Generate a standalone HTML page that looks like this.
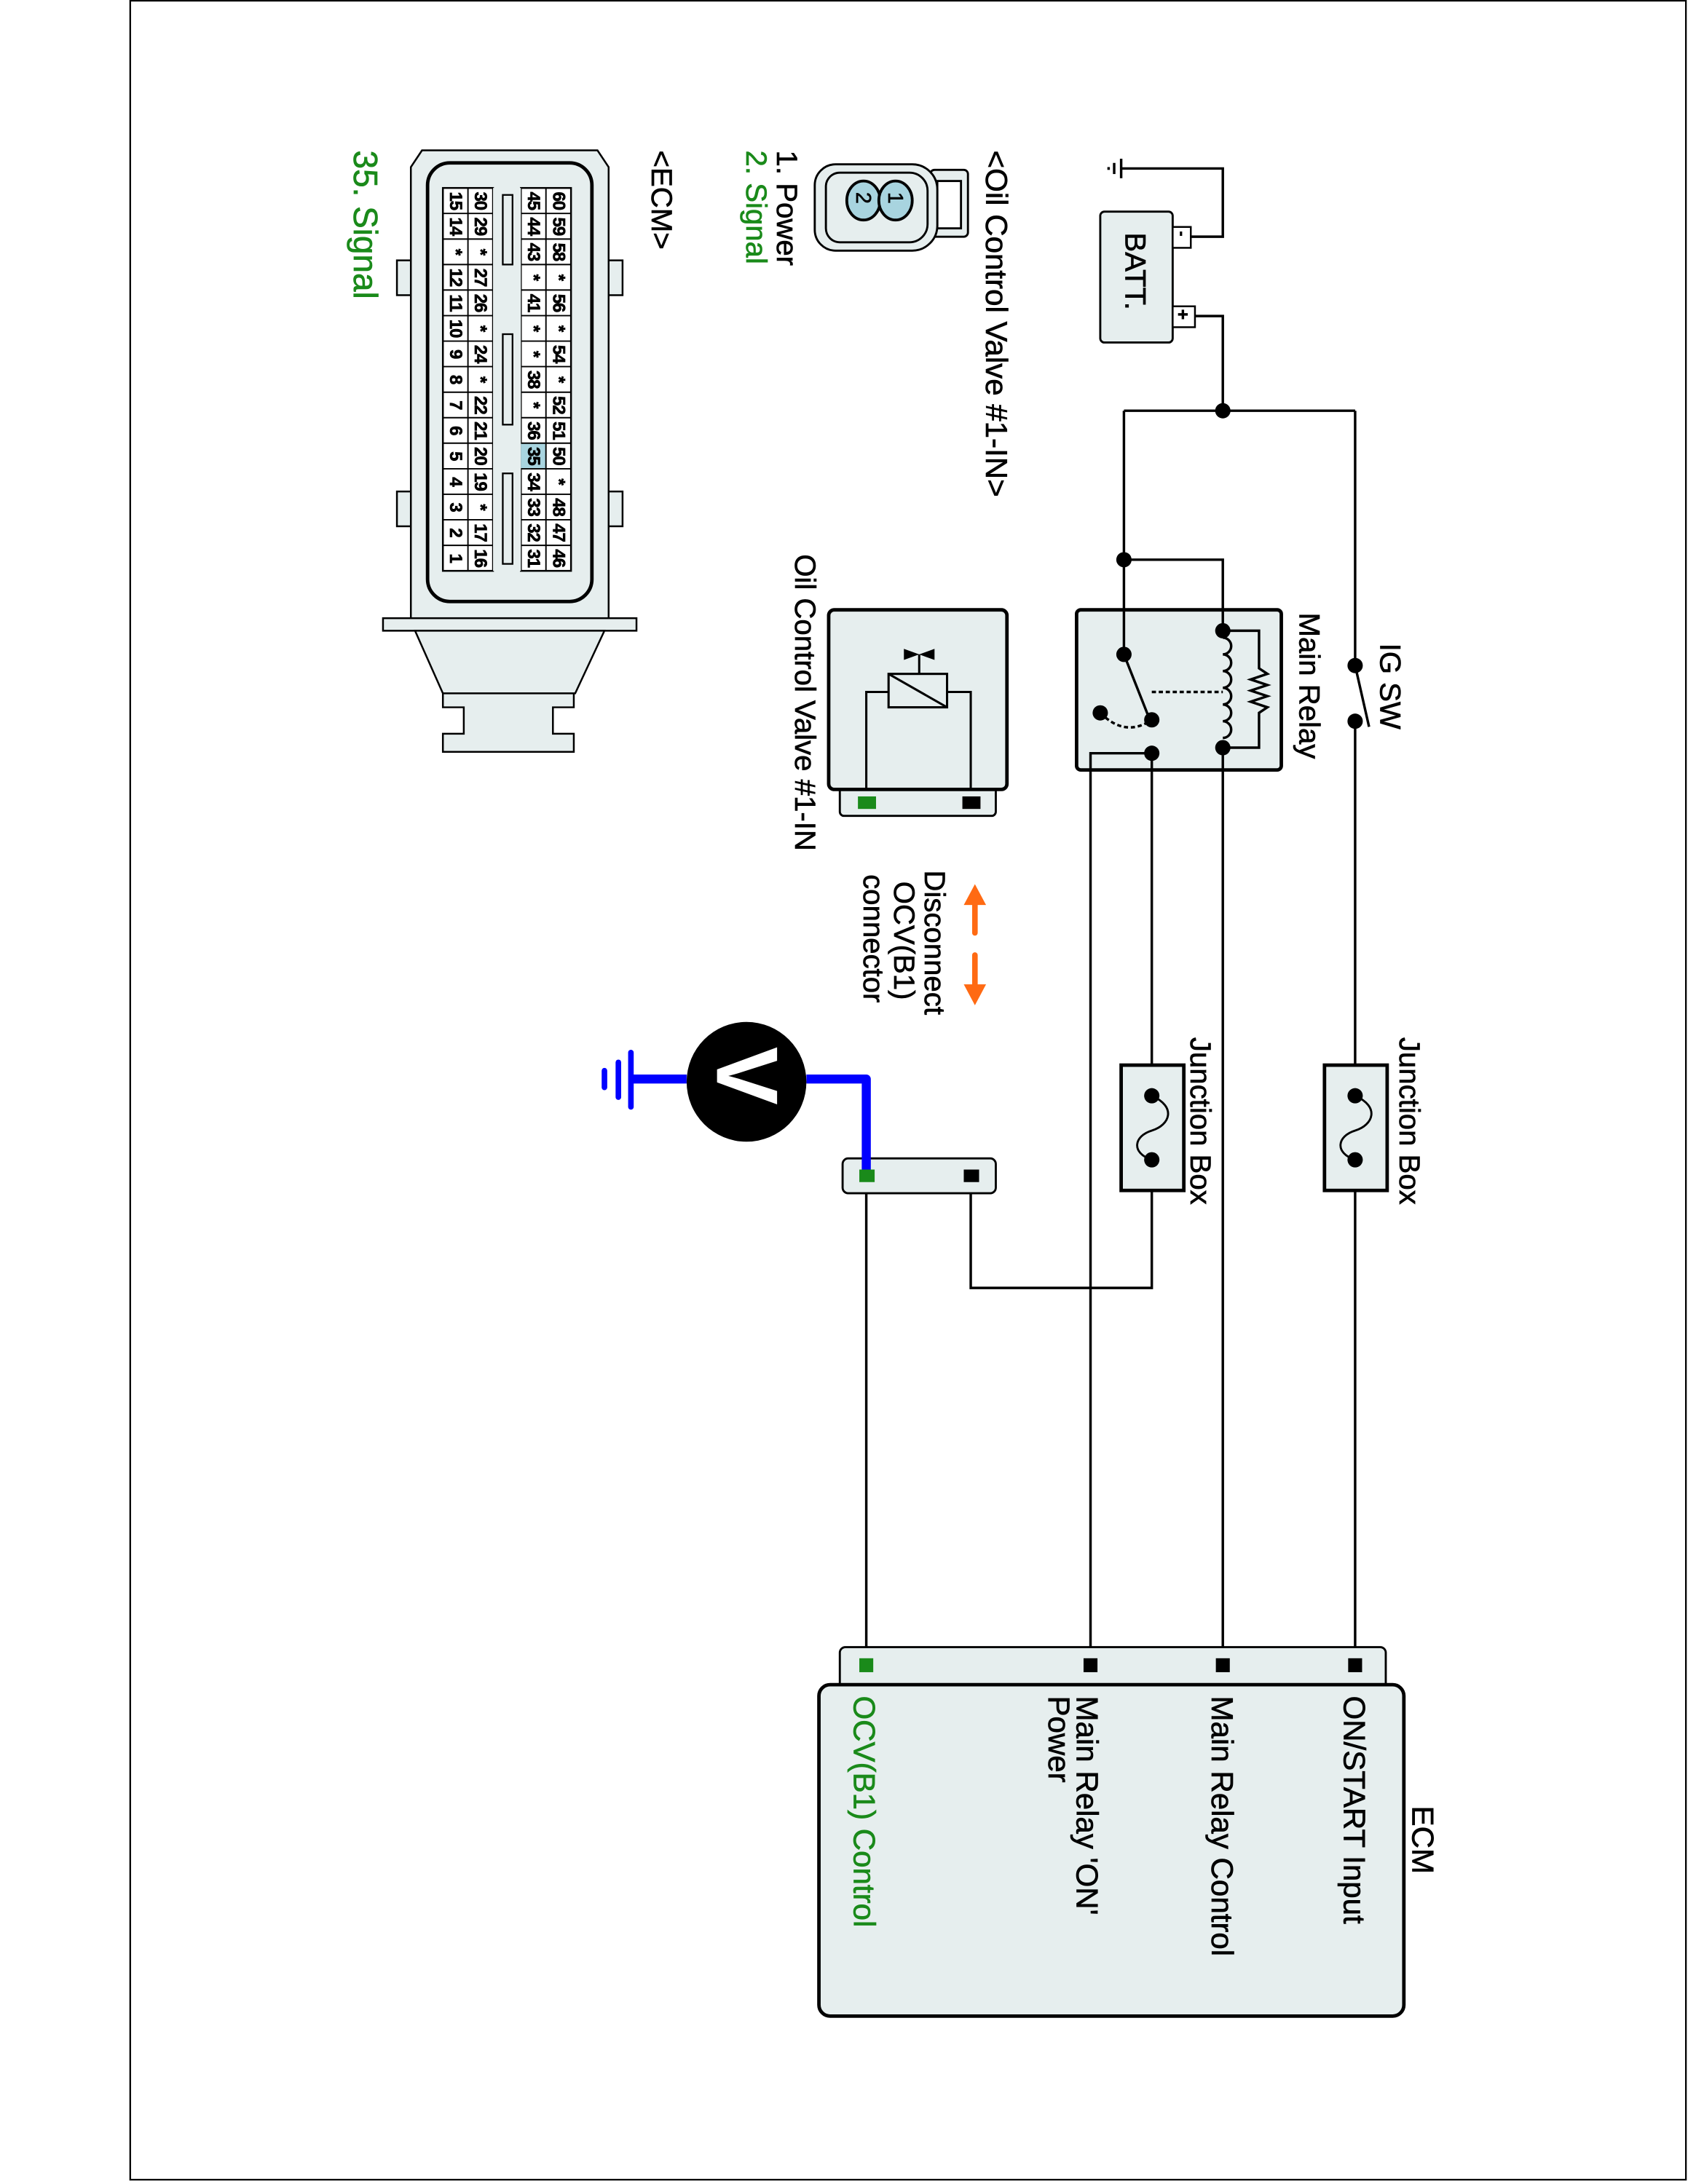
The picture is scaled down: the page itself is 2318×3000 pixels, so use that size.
<!DOCTYPE html>
<html><head><meta charset="utf-8"><style>
html,body{margin:0;padding:0;background:#fff}
svg{display:block}
text{font-family:"Liberation Sans",Arial,sans-serif;stroke:currentColor;stroke-width:0.35}
</style></head><body>
<svg width="2318" height="3000" viewBox="0 0 1212 1568.6" xmlns="http://www.w3.org/2000/svg">
<rect x="93.5" y="0.5" width="1117" height="1565" fill="#fff" stroke="#000" stroke-width="1.2"/>

<g stroke="#000" stroke-width="1.8" fill="none">
<line x1="805" y1="114" x2="805" y2="128"/><line x1="800" y1="117" x2="800" y2="125"/><line x1="796" y1="120" x2="796" y2="122"/>
<polyline points="805,121 878,121 878,170 855,170"/>
<polyline points="858,227 878,227 878,295"/>
<polyline points="807,295 973,295"/>
<polyline points="807,295 807,470"/>
<polyline points="807,402 878,402 878,453"/>
<line x1="973" y1="295" x2="973" y2="475"/>
<line x1="973" y1="518" x2="973" y2="1192"/>
<line x1="878" y1="537" x2="878" y2="1192"/>
<line x1="783" y1="541" x2="783" y2="1192"/>
<polyline points="827,541 827,925 697,925 697,845"/>
<line x1="622" y1="848" x2="622" y2="1192"/>
</g>

<rect x="790" y="152" width="52" height="94" rx="3" fill="#e6eeee" stroke="#000" stroke-width="1.5"/>
<rect x="842" y="163" width="13" height="15" fill="#fff" stroke="#000" stroke-width="1.3"/>
<rect x="842" y="220" width="16" height="15" fill="#fff" stroke="#000" stroke-width="1.3"/>
<text transform="translate(845,166) rotate(90)" font-size="11" font-weight="bold">-</text>
<text transform="translate(845,222) rotate(90)" font-size="13" font-weight="bold">+</text>
<text transform="translate(808,167) rotate(90)" font-size="21">BATT.</text>
<circle cx="878" cy="295" r="5.5"/>
<circle cx="807" cy="402" r="5.5"/>

<circle cx="973" cy="478" r="5.5"/><circle cx="973" cy="518" r="5.5"/>
<line x1="973" y1="478" x2="983" y2="522" stroke="#000" stroke-width="1.8"/>
<text transform="translate(991,462) rotate(90)" font-size="21">IG SW</text>

<rect x="773" y="438" width="147" height="115" rx="3" fill="#e6eeee" stroke="#000" stroke-width="2.5"/>
<g stroke="#000" stroke-width="1.8" fill="none">
<line x1="807" y1="438" x2="807" y2="470"/>
<line x1="878" y1="438" x2="878" y2="453"/>
<polyline points="878,453 904,453 904,480 910,484 898,488 910,492 898,496 910,500 898,504 910,508 904,512 904,537 878,537"/>
<path d="M878,458 a6,6 0 0 1 0,12 a6,6 0 0 1 0,12 a6,6 0 0 1 0,12 a6,6 0 0 1 0,12 a6,6 0 0 1 0,12 a6,6 0 0 1 0,12"/>
<line x1="807" y1="470" x2="824" y2="513"/>
<line x1="827" y1="497" x2="878" y2="497" stroke-dasharray="3,2"/>
<path d="M790,512 Q808,530 827,517" stroke-dasharray="3,2"/>
<polyline points="783,553 783,541 827,541"/>
<line x1="827" y1="541" x2="827" y2="553"/>
<line x1="878" y1="537" x2="878" y2="553"/>
</g>
<circle cx="878" cy="453" r="5.5"/><circle cx="878" cy="537" r="5.5"/>
<circle cx="807" cy="470" r="5.5"/><circle cx="827" cy="517" r="5.5"/>
<circle cx="790" cy="512" r="5.5"/><circle cx="827" cy="541" r="5.5"/>
<text transform="translate(933,440) rotate(90)" font-size="21">Main Relay</text>

<g>
<rect x="805" y="765" width="45" height="90" fill="#e6eeee" stroke="#000" stroke-width="2.5"/>
<rect x="951" y="765" width="45" height="90" fill="#e6eeee" stroke="#000" stroke-width="2.5"/>
<path d="M827,787 C845,795 840,808 827,812 C814,816 812,828 827,833" fill="none" stroke="#000" stroke-width="1.5"/>
<path d="M973,787 C991,795 986,808 973,812 C960,816 958,828 973,833" fill="none" stroke="#000" stroke-width="1.5"/>
<circle cx="827" cy="787" r="5.5"/><circle cx="827" cy="833" r="5.5"/>
<circle cx="973" cy="787" r="5.5"/><circle cx="973" cy="833" r="5.5"/>
<text transform="translate(855,745) rotate(90)" font-size="21">Junction Box</text>
<text transform="translate(1005,745) rotate(90)" font-size="21">Junction Box</text>
</g>

<rect x="603" y="1183" width="392" height="30" rx="4" fill="#e6eeee" stroke="#000" stroke-width="1.5"/>
<rect x="588" y="1210" width="420" height="238" rx="8" fill="#e6eeee" stroke="#000" stroke-width="2.5"/>
<rect x="617" y="1191" width="10" height="10" fill="#1a8a1a"/>
<rect x="778" y="1191" width="10" height="10"/>
<rect x="873" y="1191" width="10" height="10"/>
<rect x="968" y="1191" width="10" height="10"/>
<text transform="translate(1014,1297) rotate(90)" font-size="22">ECM</text>
<text transform="translate(965,1218) rotate(90)" font-size="22">ON/START Input</text>
<text transform="translate(870,1218) rotate(90)" font-size="22">Main Relay Control</text>
<text transform="translate(773,1218) rotate(90)" font-size="22">Main Relay 'ON'</text>
<text transform="translate(753,1218) rotate(90)" font-size="22">Power</text>
<text transform="translate(613,1218) rotate(90)" font-size="22" fill="#1a8a1a" color="#1a8a1a">OCV(B1) Control</text>

<rect x="605" y="832" width="110" height="25" rx="4" fill="#e6eeee" stroke="#000" stroke-width="1.5"/>
<polyline points="622,842 622,775 579,775" fill="none" stroke="#0000ff" stroke-width="6.5" stroke-linejoin="round"/>
<line x1="493" y1="775" x2="453" y2="775" stroke="#0000ff" stroke-width="6.5"/>
<g stroke="#0000ff" stroke-width="4" stroke-linecap="round">
<line x1="453" y1="756" x2="453" y2="795"/><line x1="444" y1="763" x2="444" y2="788"/><line x1="434" y1="769" x2="434" y2="781"/>
</g>
<rect x="617" y="840" width="11" height="9" fill="#1a8a1a"/>
<rect x="692" y="840" width="11" height="9"/>
<circle cx="536" cy="777" r="43"/>
<text transform="translate(515,752) rotate(90)" font-size="62" font-weight="bold" fill="#fff" color="#fff">V</text>

<g fill="#ff6a13" stroke="#ff6a13">
<line x1="700" y1="645" x2="700" y2="670" stroke-width="4" stroke-linecap="round"/>
<polygon points="692,650 700,635 708,650" stroke="none"/>
<line x1="700" y1="686" x2="700" y2="710" stroke-width="4" stroke-linecap="round"/>
<polygon points="692,707 700,722 708,707" stroke="none"/>
</g>
<text transform="translate(664,625) rotate(90)" font-size="21">Disconnect</text>
<text transform="translate(642,633) rotate(90)" font-size="21">OCV(B1)</text>
<text transform="translate(620,628) rotate(90)" font-size="21">connector</text>

<rect x="603" y="565" width="112" height="21" rx="3" fill="#e6eeee" stroke="#000" stroke-width="1.5"/>
<rect x="595" y="438" width="128" height="129" rx="4" fill="#e6eeee" stroke="#000" stroke-width="2.5"/>
<rect x="616" y="572" width="13" height="9" fill="#1a8a1a"/>
<rect x="691" y="572" width="13" height="9"/>
<g stroke="#000" stroke-width="1.6" fill="none">
<rect x="638" y="484" width="42" height="24" fill="#e6eeee"/>
<line x1="638" y1="484" x2="680" y2="508"/>
<polyline points="638,497 622,497 622,567"/>
<polyline points="680,497 697,497 697,567"/>
<line x1="660" y1="470" x2="660" y2="484"/>
</g>
<polygon points="649,466 660,470 649,474" /><polygon points="671,466 660,470 671,474"/>
<text transform="translate(571,398) rotate(90)" font-size="21">Oil Control Valve #1-IN</text>

<g stroke="#000" stroke-width="1.5">
<rect x="668" y="122" width="27" height="48" rx="3" fill="#e6eeee"/>
<rect x="673" y="130" width="17" height="34" fill="#fff"/>
<path d="M600,118 h55 a18,18 0 0 1 18,18 v26 a18,18 0 0 1 -18,18 h-55 a15,15 0 0 1 -15,-15 v-32 a15,15 0 0 1 15,-15z" fill="#e6eeee"/>
<path d="M603,124 h50 a13,13 0 0 1 13,13 v24 a13,13 0 0 1 -13,13 h-50 a10,10 0 0 1 -10,-10 v-30 a10,10 0 0 1 10,-10z" fill="none"/>
<ellipse cx="620" cy="144" rx="12" ry="14" fill="#a8d4df" stroke-width="2"/>
<ellipse cx="643" cy="144" rx="12" ry="14" fill="#a8d4df" stroke-width="2"/>
</g>
<text transform="translate(638,138) rotate(90)" font-size="15">1</text>
<text transform="translate(615,138) rotate(90)" font-size="15">2</text>
<text transform="translate(708,108) rotate(90)" font-size="22">&lt;Oil Control Valve #1-IN&gt;</text>
<text transform="translate(558,108) rotate(90)" font-size="21">1. Power</text>
<text transform="translate(536,108) rotate(90)" font-size="21" fill="#1a8a1a" color="#1a8a1a">2. Signal</text>

<text transform="translate(468,108) rotate(90)" font-size="21">&lt;ECM&gt;</text>
<text transform="translate(254,108) rotate(90)" font-size="24" fill="#1a8a1a" color="#1a8a1a">35. Signal</text>
<g stroke="#000" stroke-width="1.3" fill="#e6eeee">
<rect x="285" y="187" width="12" height="25"/><rect x="285" y="353" width="12" height="25"/>
<rect x="435" y="187" width="12" height="25"/><rect x="435" y="353" width="12" height="25"/>
<path d="M295,445 V120 l8,-12 h126 l8,12 V445z"/>
<rect x="275" y="444" width="182" height="9"/>
<polygon points="298,453 434,453 413,498 318,498"/>
<polygon points="318,498 412,498 412,508 397,508 397,527 412,527 412,540 318,540 318,527 333,527 333,508 318,508"/>
<rect x="307" y="117" width="118" height="315" rx="16" stroke-width="2.5"/>
</g>
<g>
<rect x="374" y="135" width="36" height="275" fill="#fff" stroke="#000" stroke-width="1.3"/>
<rect x="318" y="135" width="36" height="275" fill="#fff" stroke="#000" stroke-width="1.3"/>
<rect x="374" y="318.3" width="18" height="18.4" fill="#a8d4df"/>
<g stroke="#000" stroke-width="1">
<line x1="392" y1="135" x2="392" y2="410"/><line x1="336" y1="135" x2="336" y2="410"/>
<path d="M318,153.3h92M318,171.7h92M318,190h92M318,208.3h92M318,226.7h92M318,245h92M318,263.3h92M318,281.7h92M318,300h92M318,318.3h92M318,336.7h92M318,355h92M318,373.3h92M318,391.7h92" />
</g>
<rect x="354" y="135" width="20" height="275" fill="#e6eeee"/>
<rect x="361" y="140" width="7" height="50" fill="#e6eeee" stroke="#000" stroke-width="1.2"/>
<rect x="361" y="240" width="7" height="65" fill="#e6eeee" stroke="#000" stroke-width="1.2"/>
<rect x="361" y="340" width="7" height="65" fill="#e6eeee" stroke="#000" stroke-width="1.2"/>
</g>
<g font-size="12.5" font-weight="bold" text-anchor="middle" letter-spacing="-0.5">
<g transform="translate(397,144.2) rotate(90)"><text x="0" y="0">60</text><text x="18.33" y="0">59</text><text x="36.67" y="0">58</text><text x="55" y="0">*</text><text x="73.33" y="0">56</text><text x="91.67" y="0">*</text><text x="110" y="0">54</text><text x="128.3" y="0">*</text><text x="146.7" y="0">52</text><text x="165" y="0">51</text><text x="183.3" y="0">50</text><text x="201.7" y="0">*</text><text x="220" y="0">48</text><text x="238.3" y="0">47</text><text x="256.7" y="0">46</text></g>
<g transform="translate(379,144.2) rotate(90)"><text x="0" y="0">45</text><text x="18.33" y="0">44</text><text x="36.67" y="0">43</text><text x="55" y="0">*</text><text x="73.33" y="0">41</text><text x="91.67" y="0">*</text><text x="110" y="0">*</text><text x="128.3" y="0">38</text><text x="146.7" y="0">*</text><text x="165" y="0">36</text><text x="183.3" y="0">35</text><text x="201.7" y="0">34</text><text x="220" y="0">33</text><text x="238.3" y="0">32</text><text x="256.7" y="0">31</text></g>
<g transform="translate(341,144.2) rotate(90)"><text x="0" y="0">30</text><text x="18.33" y="0">29</text><text x="36.67" y="0">*</text><text x="55" y="0">27</text><text x="73.33" y="0">26</text><text x="91.67" y="0">*</text><text x="110" y="0">24</text><text x="128.3" y="0">*</text><text x="146.7" y="0">22</text><text x="165" y="0">21</text><text x="183.3" y="0">20</text><text x="201.7" y="0">19</text><text x="220" y="0">*</text><text x="238.3" y="0">17</text><text x="256.7" y="0">16</text></g>
<g transform="translate(323,144.2) rotate(90)"><text x="0" y="0">15</text><text x="18.33" y="0">14</text><text x="36.67" y="0">*</text><text x="55" y="0">12</text><text x="73.33" y="0">11</text><text x="91.67" y="0">10</text><text x="110" y="0">9</text><text x="128.3" y="0">8</text><text x="146.7" y="0">7</text><text x="165" y="0">6</text><text x="183.3" y="0">5</text><text x="201.7" y="0">4</text><text x="220" y="0">3</text><text x="238.3" y="0">2</text><text x="256.7" y="0">1</text></g>
</g>
</svg>
</body></html>
